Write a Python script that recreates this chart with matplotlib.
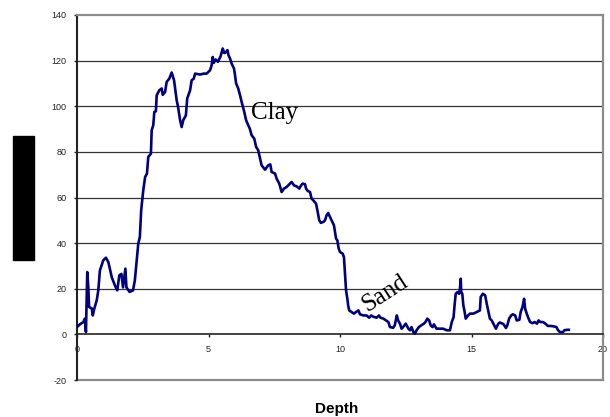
import matplotlib
matplotlib.use('Agg')
import matplotlib.pyplot as plt
from matplotlib.patches import Rectangle
from matplotlib.lines import Line2D

# Data
depth = [0.00, 0.11, 0.24, 0.30, 0.34, 0.39, 0.43, 0.46, 0.56, 0.60, 0.66, 0.75, 0.81, 0.87,
         1.00, 1.10, 1.19, 1.25, 1.32, 1.44, 1.53, 1.61, 1.69, 1.75, 1.84, 1.88, 2.00, 2.13,
         2.20, 2.27, 2.33, 2.39, 2.44, 2.52, 2.59, 2.66, 2.71, 2.81, 2.84, 2.90, 2.94, 3.00,
         3.03, 3.13, 3.22, 3.26, 3.35, 3.41, 3.51, 3.60, 3.69, 3.79, 3.84, 3.92, 3.98, 4.04,
         4.14, 4.19, 4.30, 4.36, 4.44, 4.49, 4.68, 4.81, 4.93, 5.06, 5.12, 5.16, 5.20, 5.27,
         5.36, 5.46, 5.54, 5.60, 5.67, 5.72, 5.76, 5.82, 5.88, 5.97, 6.00, 6.05, 6.13, 6.20,
         6.26, 6.36, 6.43, 6.51, 6.57, 6.64, 6.74, 6.81, 6.89, 6.96, 7.02, 7.15, 7.27, 7.35,
         7.40, 7.53, 7.59, 7.69, 7.78, 7.87, 7.97, 8.10, 8.16, 8.25, 8.35, 8.45, 8.52, 8.58,
         8.67, 8.71, 8.77, 8.86, 8.92, 8.98, 9.09, 9.14, 9.21, 9.27, 9.37, 9.43, 9.49, 9.55,
         9.62, 9.68, 9.77, 9.85, 9.90, 9.95, 10.00, 10.10, 10.15, 10.19, 10.23, 10.28, 10.31,
         10.35, 10.44, 10.53, 10.61, 10.70, 10.76, 10.89, 11.01, 11.11, 11.19, 11.25, 11.39,
         11.48, 11.54, 11.65, 11.75, 11.84, 11.90, 12.02, 12.08, 12.16, 12.21, 12.28, 12.34,
         12.40, 12.50, 12.60, 12.66, 12.72, 12.79, 12.85, 12.91, 13.00, 13.08, 13.19, 13.25,
         13.32, 13.39, 13.45, 13.52, 13.57, 13.67, 13.80, 13.92, 14.06, 14.18, 14.25, 14.32,
         14.35, 14.40, 14.46, 14.53, 14.56, 14.59, 14.61, 14.65, 14.69, 14.73, 14.78, 14.87,
         14.94, 15.07, 15.20, 15.32, 15.35, 15.43, 15.52, 15.58, 15.62, 15.70, 15.77, 15.83,
         15.93, 16.02, 16.08, 16.18, 16.22, 16.31, 16.36, 16.43, 16.51, 16.57, 16.66, 16.72,
         16.82, 16.87, 16.94, 17.00, 17.04, 17.10, 17.17, 17.23, 17.32, 17.40, 17.49, 17.55,
         17.62, 17.72, 17.81, 17.90, 18.00, 18.13, 18.23, 18.28, 18.36, 18.48, 18.53, 18.63,
         18.70]
value = [3.2, 4.4, 5.4, 6.9, 1.0, 27.3, 20.7, 12.0, 11.4, 8.3, 11.4, 14.9, 19.3, 28.0,
         32.5, 33.6, 31.7, 28.8, 25.1, 21.5, 19.3, 25.9, 26.5, 20.6, 28.8, 20.6, 18.6, 19.3,
         23.7, 32.5, 39.8, 42.7, 54.4, 63.2, 69.0, 70.5, 77.8, 79.2, 89.5, 91.7, 97.5, 97.8,
         104.8, 107.0, 107.8, 105.0, 106.3, 110.7, 112.1, 114.8, 111.4, 102.6, 99.9, 93.9, 90.9, 93.9,
         96.0, 103.4, 107.0, 111.4, 112.1, 114.3, 113.9, 114.3, 114.3, 115.8, 118.0, 121.6, 119.0, 120.5,
         119.5, 121.9, 125.3, 123.3, 123.8, 124.6, 122.4, 120.9, 118.7, 116.5, 114.3, 110.0, 107.8, 104.8,
         101.9, 97.5, 93.9, 91.7, 90.2, 87.3, 85.8, 82.2, 80.7, 77.1, 74.1, 72.2, 74.1, 74.5,
         71.2, 70.5, 68.3, 66.1, 62.4, 63.9, 64.6, 66.1, 66.8, 65.3, 64.9, 63.9, 65.3, 66.1,
         65.8, 63.9, 62.9, 62.4, 59.5, 58.8, 57.3, 54.4, 50.0, 48.9, 49.3, 50.0, 52.2, 53.2,
         51.5, 50.0, 47.8, 42.0, 41.2, 37.6, 36.1, 35.4, 33.9, 26.6, 19.3, 15.6, 12.7,
         10.5, 9.8, 9.1, 9.8, 10.5, 8.8, 8.3, 8.3, 7.3, 8.3, 7.8, 7.3,
         8.3, 7.3, 6.9, 6.1, 5.4, 3.2, 2.9, 3.9, 8.3, 6.1, 4.7, 2.5,
         3.2, 4.7, 2.5, 1.8, 3.2, 1.0, 0.3, 1.8, 3.2, 3.9, 4.7, 5.4,
         6.9, 6.1, 3.9, 3.2, 4.4, 2.5, 2.5, 2.5, 1.8, 1.8, 5.4, 7.6,
         12.0, 17.8, 18.5, 17.8, 20.0, 24.4, 18.5, 17.8, 12.7, 10.5, 6.9, 8.3,
         9.1, 9.1, 9.8, 10.5, 16.4, 17.8, 17.1, 13.4, 11.2, 6.9, 6.1, 4.7,
         2.5, 4.7, 5.2, 4.7, 4.4, 2.8, 3.9, 6.9, 8.3, 8.8, 8.3, 6.1,
         6.4, 9.8, 12.0, 15.6, 11.2, 9.1, 6.9, 5.4, 4.9, 5.4, 4.7, 6.1,
         5.4, 5.4, 4.7, 3.7, 3.7, 3.5, 3.2, 2.0, 1.0, 1.0, 1.8, 2.0,
         2.0]

x_ticks = [0, 5, 10, 15, 20]
y_ticks = [-20, 0, 20, 40, 60, 80, 100, 120, 140]

fig = plt.figure(figsize=(6.1, 4.17), dpi=100)
ax = fig.add_axes([77/610, 1 - 380/417, 526/610, 365/417])

# horizontal grid lines
for g in [20, 40, 60, 80, 100, 120]:
    ax.axhline(g, color='#333333', lw=0.9, zorder=1)

ax.plot(depth, value, color='#000080', lw=1.9, zorder=3)

ax.set_xlim(0, 20)
ax.set_ylim(-20, 140)
ax.set_xticks(x_ticks)
ax.set_yticks(y_ticks)
ax.set_xticklabels([str(t) for t in x_ticks])
ax.set_yticklabels([str(t) for t in y_ticks])

# x axis sits at y = 0 like in Excel
ax.spines['bottom'].set_position(('data', 0))
ax.spines['bottom'].set_color('#222222')
ax.spines['bottom'].set_linewidth(1.2)
ax.spines['left'].set_color('#222222')
ax.spines['left'].set_linewidth(1.5)
for s in ['top', 'right']:
    ax.spines[s].set_color('#8c8c8c')
    ax.spines[s].set_linewidth(1.6)
# frame line at the bottom of the plot area
ax.add_line(Line2D([0, 1], [0, 0], transform=ax.transAxes, color='#8c8c8c',
                   lw=1.6, clip_on=False))

ax.tick_params(axis='y', direction='out', length=2.5, width=1, pad=5,
               labelsize=6.5, colors='#222222')
ax.tick_params(axis='x', direction='out', length=2.5, width=1, pad=5,
               labelsize=6.5, colors='#222222')
for lab in ax.get_xticklabels() + ax.get_yticklabels():
    lab.set_fontfamily('Liberation Sans')

ax.text(6.62, 94.5, 'Clay', fontsize=18, family='Liberation Serif', va='baseline')
ax.text(11.7, 18.0, 'Sand', fontsize=18, family='Liberation Serif', rotation=33,
        ha='center', va='center', rotation_mode='anchor')

fig.text(337/610, 1 - 409/417, 'Depth', fontsize=11, fontweight='bold',
         family='Liberation Sans', ha='center', va='center')

# black box where the y label would be
fig.patches.append(Rectangle((13/610, 1 - 260/417), 21/610, 124/417,
                             transform=fig.transFigure, color='black'))

fig.savefig('out.png', dpi=100)
